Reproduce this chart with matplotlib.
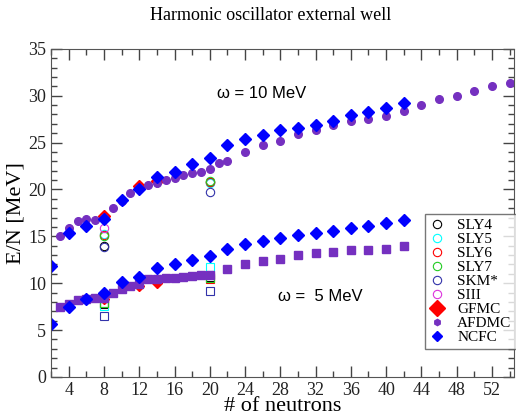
import numpy as np
import matplotlib
matplotlib.use("Agg")
import matplotlib.pyplot as plt
from matplotlib.lines import Line2D
from matplotlib.ticker import MultipleLocator

# omega = 10 MeV
afdmc10_n = [3, 4, 5, 6, 7, 8, 9, 10, 11, 12, 13, 14, 15, 16, 17, 18, 19, 20, 21, 22,
             24, 26, 28, 30, 32, 34, 36, 38, 40, 42, 44, 46, 48, 50, 52, 54]
afdmc10_e = [15.0, 15.9, 16.6, 16.8, 16.75, 17.0, 18.0, 18.8, 19.6, 20.1, 20.5, 20.7, 21.0, 21.2,
             21.5, 21.75, 21.9, 22.15, 22.8, 23.0, 24.0, 24.7, 25.2, 25.9, 26.3, 26.9, 27.3,
             27.5, 27.8, 28.4, 29.0, 29.6, 30.0, 30.5, 31.0, 31.4]
ncfc10_n = [2, 4, 6, 8, 10, 12, 14, 16, 18, 20, 22, 24, 26, 28, 30, 32, 34, 36, 38, 40, 42]
ncfc10_e = [11.8, 15.4, 16.1, 16.8, 18.9, 20.0, 21.3, 21.9, 22.7, 23.3, 24.7, 25.4, 25.85,
            26.3, 26.6, 26.9, 27.3, 27.9, 28.3, 28.7, 29.2]
gfmc10_n = [8, 12, 14]
gfmc10_e = [17.2, 20.4, 20.9]

# omega = 5 MeV
afdmc5_n = [3, 4, 5, 6, 7, 8, 9, 10, 11, 12, 13, 14, 15, 16, 17, 18, 19, 20,
            22, 24, 26, 28, 30, 32, 34, 36, 38, 40, 42]
afdmc5_e = [7.5, 7.8, 8.2, 8.35, 8.4, 8.4, 9.0, 9.4, 9.7, 9.9, 10.4, 10.45, 10.55, 10.6,
            10.67, 10.75, 10.85, 10.9, 11.5, 12.0, 12.4, 12.6, 13.0, 13.2, 13.35, 13.5,
            13.5, 13.6, 13.95]
ncfc5_n = [2, 4, 6, 8, 10, 12, 14, 16, 18, 20, 22, 24, 26, 28, 30, 32, 34, 36, 38, 40, 42]
ncfc5_e = [5.6, 7.5, 8.35, 8.95, 10.1, 10.7, 11.6, 12.1, 12.5, 12.9, 13.7, 14.2, 14.55,
           14.85, 15.1, 15.4, 15.6, 15.85, 16.1, 16.4, 16.7]
gfmc5_n = [8, 12, 14]
gfmc5_e = [8.3, 9.7, 10.0]

# Skyrme functionals at N = 8 and 20
sky_names = ["SLY4", "SLY5", "SLY6", "SLY7", "SKM*", "SIII"]
sky_colors = ["black", "cyan", "red", "#22cc22", "#3333aa", "#dd33dd"]
sky_n = [8, 20]
sky10_e = {"SLY4": [14.0, 20.8], "SLY5": [15.2, 20.7], "SLY6": [15.1, 20.8],
           "SLY7": [15.0, 20.9], "SKM*": [13.9, 19.7], "SIII": [15.9, None]}
sky5_e = {"SLY4": [7.8, 10.7], "SLY5": [7.6, 11.7], "SLY6": [7.9, 10.5],
          "SLY7": [7.9, 10.6], "SKM*": [6.5, 9.2], "SIII": [None, None]}

plt.rcParams["font.family"] = "Liberation Serif"

fig = plt.figure(figsize=(5.16, 4.17), dpi=100)
ax = fig.add_axes([0.099, 0.096, 0.897, 0.787])

purple = "#7530c0"
blue = "#0000ff"

for name, col in zip(sky_names, sky_colors):
    for n, e in zip(sky_n, sky10_e[name]):
        if e is not None:
            ax.plot(n, e, "o", mfc="none", mec=col, ms=6, mew=0.8)
    for n, e in zip(sky_n, sky5_e[name]):
        if e is not None:
            ax.plot(n, e, "s", mfc="none", mec=col, ms=6, mew=0.8)

ax.plot(gfmc10_n, gfmc10_e, "D", color="red", ms=6.5, ls="none")
ax.plot(gfmc5_n, gfmc5_e, "D", color="red", ms=5.5, ls="none")
ax.plot(afdmc10_n, afdmc10_e, "o", color=purple, ms=5.5, ls="none")
ax.plot(afdmc5_n, afdmc5_e, "s", color=purple, ms=5.2, ls="none")
ax.plot(ncfc10_n, ncfc10_e, "D", color=blue, ms=5.8, ls="none")
ax.plot(ncfc5_n, ncfc5_e, "D", color=blue, ms=5.8, ls="none")

ax.set_xlim(2, 54.5)
ax.set_ylim(0, 35)
ax.xaxis.set_minor_locator(MultipleLocator(2))
ax.yaxis.set_major_locator(MultipleLocator(5))
ax.yaxis.set_minor_locator(MultipleLocator(1))
ax.set_xticks(np.arange(4, 54, 4))
ax.tick_params(which="both", direction="in", top=True, right=True, labelsize=13, colors="#444444",
               labelcolor="#222222")
ax.tick_params(which="major", length=8, width=1)
ax.tick_params(which="minor", length=4, width=1)
for s in ax.spines.values():
    s.set_color("#555555")

ax.set_xlabel("# of neutrons", fontsize=16, labelpad=-1)
ax.set_ylabel("E/N [MeV]", fontsize=16, labelpad=2)
fig.text(0.525, 0.962, "Harmonic oscillator external well", ha="center", va="center", fontsize=13)

ax.text(20.8, 30.2, "ω = 10 MeV", fontsize=12, family="Liberation Sans", va="center")
ax.text(27.7, 8.6, "ω =  5 MeV", fontsize=12, family="Liberation Sans", va="center")

handles = [Line2D([], [], ls="none", marker="o", mfc="none", mec=c, ms=6, mew=0.8) for c in sky_colors]
handles += [Line2D([], [], ls="none", marker="D", color="red", ms=8),
            Line2D([], [], ls="none", marker="h", color=purple, ms=4.5),
            Line2D([], [], ls="none", marker="D", color=blue, ms=5.5)]
labels = sky_names + ["GFMC", "AFDMC", "NCFC"]
leg = ax.legend(handles, labels, loc="upper left", bbox_to_anchor=(0.808, 0.497), fontsize=11,
                frameon=True, fancybox=False, edgecolor="#555555", handlelength=1.0,
                handletextpad=0.8, labelspacing=0.02, borderpad=0.3, borderaxespad=0)
leg.get_frame().set_linewidth(1.0)

fig.savefig("out.png", dpi=100)
